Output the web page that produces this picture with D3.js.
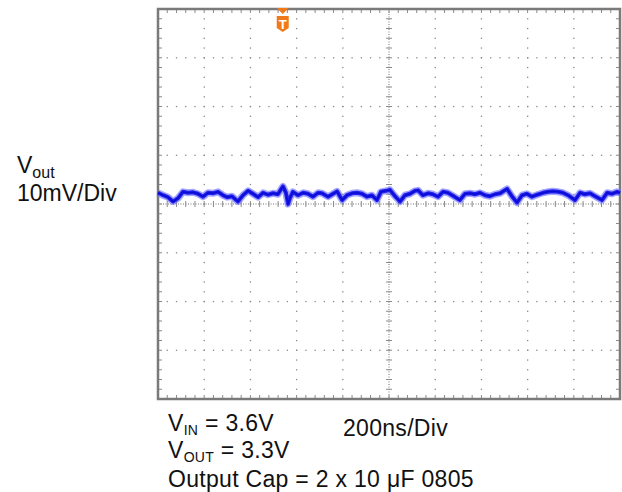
<!DOCTYPE html>
<html>
<head>
<meta charset="utf-8">
<script src="https://cdn.jsdelivr.net/npm/d3@7"></script>
<style>
  body { margin: 0; background: #fff; }
  text { font-family: "Liberation Sans", Arial, sans-serif; fill: #111; }
</style>
</head>
<body>
<svg id="scope" width="622" height="492"></svg>
<script>
// trace: time (ns) and Vout ripple (mV, AC coupled)
var traceTime = [0, 22, 43, 65, 87, 108, 130, 152, 173, 195, 216, 238, 260, 281, 299, 320, 346, 368, 390, 411,
  433, 455, 476, 498, 519, 541, 554, 563, 571, 584, 606, 628, 649, 671, 693, 710, 736, 758, 775, 797,
  818, 840, 861, 883, 905, 926, 948, 965, 987, 1004, 1026, 1048, 1069, 1091, 1113, 1126, 1147, 1169, 1190, 1212,
  1234, 1255, 1277, 1307, 1329, 1351, 1372, 1394, 1416, 1437, 1459, 1481, 1511, 1532, 1554, 1576, 1597, 1619, 1641, 1667,
  1688, 1710, 1732, 1753, 1775, 1805, 1827, 1848, 1870, 1892, 1922, 1944, 1965, 1987, 2000];
var traceMv = [2.3, 1.8, 1.4, 0.5, 1.2, 2.5, 2.3, 2.4, 2.1, 1.5, 2.3, 2.2, 2.5, 1.8, 1.4, 1.6, 0.5, 1.8, 2.7, 2.1,
  1.4, 2.3, 1.9, 2.2, 2.0, 3.6, 2.3, 0.0, 1.2, 2.5, 1.8, 2.3, 2.1, 1.5, 2.3, 2.2, 1.5, 2.1, 2.6, 0.8,
  1.8, 2.2, 2.3, 2.1, 1.5, 1.8, 0.8, 2.5, 2.7, 2.9, 1.6, 0.5, 1.8, 2.1, 2.7, 2.8, 1.8, 2.2, 2.0, 1.5,
  2.5, 2.3, 1.7, 0.8, 2.1, 2.2, 2.0, 2.3, 1.8, 1.6, 2.0, 2.2, 3.1, 1.6, 0.3, 1.8, 2.1, 1.5, 1.9, 2.3,
  2.5, 2.6, 2.5, 2.3, 1.8, 0.8, 2.3, 2.0, 2.2, 1.6, 0.8, 2.3, 2.1, 2.5, 2.3];

var triggerTime = 540;
var timeDivs = [0, 200, 400, 600, 800, 1000, 1200, 1400, 1600, 1800, 2000];
var mvDivs = [-40, -30, -20, -10, 0, 10, 20, 30, 40];

var svg = d3.select('#scope');

var x = d3.scaleLinear().domain([0, 2000]).range([158, 620]);
var y = d3.scaleLinear().domain([-40, 40]).range([399, 9]);

var grid = svg.append('g');
var minorT = d3.range(0, 2001, 40);
var minorV = d3.range(-40, 40.1, 2);

// dotted graticule
timeDivs.forEach(function (t) {
  if (t === 1000 || t === 0 || t === 2000) return;
  grid.selectAll(null).data(minorV).enter().append('rect')
    .attr('x', x(t) - 0.6).attr('y', function (v) { return y(v) - 0.6; })
    .attr('width', 1.3).attr('height', 1.3).attr('fill', '#8a8a8a');
});
mvDivs.forEach(function (v) {
  if (v === 0 || v === 40 || v === -40) return;
  grid.selectAll(null).data(minorT).enter().append('rect')
    .attr('x', function (t) { return x(t) - 0.6; }).attr('y', y(v) - 0.6)
    .attr('width', 1.3).attr('height', 1.3).attr('fill', '#8a8a8a');
});

// center cross, dense dots and ticks
grid.append('line').attr('x1', x(0)).attr('x2', x(2000)).attr('y1', y(0)).attr('y2', y(0))
  .attr('stroke', '#777').attr('stroke-width', 1).attr('stroke-dasharray', '1,1.5');
grid.append('line').attr('x1', x(1000)).attr('x2', x(1000)).attr('y1', y(40)).attr('y2', y(-40))
  .attr('stroke', '#777').attr('stroke-width', 1).attr('stroke-dasharray', '1,1.5');
grid.selectAll(null).data(minorT).enter().append('line')
  .attr('x1', function (t) { return x(t); }).attr('x2', function (t) { return x(t); })
  .attr('y1', y(0) - 3).attr('y2', y(0) + 3).attr('stroke', '#8a8a8a').attr('stroke-width', 1);
grid.selectAll(null).data(minorV).enter().append('line')
  .attr('x1', x(1000) - 3).attr('x2', x(1000) + 3)
  .attr('y1', function (v) { return y(v); }).attr('y2', function (v) { return y(v); })
  .attr('stroke', '#8a8a8a').attr('stroke-width', 1);

// border ticks
grid.selectAll(null).data(minorT).enter().append('line')
  .attr('x1', function (t) { return x(t); }).attr('x2', function (t) { return x(t); })
  .attr('y1', y(40)).attr('y2', y(40) + 4).attr('stroke', '#8a8a8a');
grid.selectAll(null).data(minorT).enter().append('line')
  .attr('x1', function (t) { return x(t); }).attr('x2', function (t) { return x(t); })
  .attr('y1', y(-40)).attr('y2', y(-40) - 4).attr('stroke', '#8a8a8a');
grid.selectAll(null).data(minorV).enter().append('line')
  .attr('x1', x(0)).attr('x2', x(0) + 4)
  .attr('y1', function (v) { return y(v); }).attr('y2', function (v) { return y(v); }).attr('stroke', '#8a8a8a');
grid.selectAll(null).data(minorV).enter().append('line')
  .attr('x1', x(2000)).attr('x2', x(2000) - 4)
  .attr('y1', function (v) { return y(v); }).attr('y2', function (v) { return y(v); }).attr('stroke', '#8a8a8a');

// frame
grid.append('rect').attr('x', x(0)).attr('y', y(40))
  .attr('width', x(2000) - x(0)).attr('height', y(-40) - y(40))
  .attr('fill', 'none').attr('stroke', '#7a7a7a').attr('stroke-width', 2.5);

// trace: fuzzy band plus core
var pts = traceTime.map(function (t, i) { return [t, traceMv[i]]; });
var line = d3.line().x(function (d) { return x(d[0]); }).y(function (d) { return y(d[1]); });
svg.append('path').datum(pts).attr('d', line).attr('fill', 'none')
  .attr('stroke', '#6a6aff').attr('stroke-width', 7).attr('stroke-linejoin', 'round').attr('opacity', 0.6);
svg.append('path').datum(pts).attr('d', line).attr('fill', 'none')
  .attr('stroke', '#2222f0').attr('stroke-width', 4).attr('stroke-linejoin', 'round');
svg.append('path').datum(pts).attr('d', line).attr('fill', 'none')
  .attr('stroke', '#0a0ad0').attr('stroke-width', 1.5).attr('stroke-linejoin', 'round');

// trigger marker
var tx = x(triggerTime);
svg.append('path').attr('d', 'M' + (tx - 6) + ',' + (y(40) - 1) + 'L' + (tx + 6) + ',' + (y(40) - 1) + 'L' + tx + ',' + (y(40) + 5) + 'Z')
  .attr('fill', '#f07a1a');
svg.append('path')
  .attr('d', 'M' + (tx - 6) + ',16 L' + (tx + 6) + ',16 L' + (tx + 6) + ',28 L' + tx + ',32 L' + (tx - 6) + ',28 Z')
  .attr('fill', '#f07a1a');
svg.append('text').attr('x', tx).attr('y', 28.5).attr('text-anchor', 'middle')
  .style('font-size', '13px').style('font-weight', 'bold').style('fill', '#fff').text('T');

// labels
var vlab = svg.append('text').attr('x', 17).attr('y', 173).style('font-size', '23px');
vlab.append('tspan').text('V');
vlab.append('tspan').attr('dy', 5).style('font-size', '16px').text('out');
svg.append('text').attr('x', 17).attr('y', 201).style('font-size', '23px').text('10mV/Div');

var bottom = svg.append('g').style('letter-spacing', '0.3px');
var l1 = bottom.append('text').attr('x', 168).attr('y', 431).style('font-size', '23px');
l1.append('tspan').text('V');
l1.append('tspan').attr('dy', 4).style('font-size', '14px').text('IN');
l1.append('tspan').attr('dy', -4).text(' = 3.6V');
var l2 = bottom.append('text').attr('x', 168).attr('y', 458).style('font-size', '23px');
l2.append('tspan').text('V');
l2.append('tspan').attr('dy', 4).style('font-size', '14px').text('OUT');
l2.append('tspan').attr('dy', -4).text(' = 3.3V');
bottom.append('text').attr('x', 168).attr('y', 487).style('font-size', '23px').text('Output Cap = 2 x 10 \u03bcF 0805');
bottom.append('text').attr('x', 343).attr('y', 436).style('font-size', '23px').text('200ns/Div');
</script>
</body>
</html>
